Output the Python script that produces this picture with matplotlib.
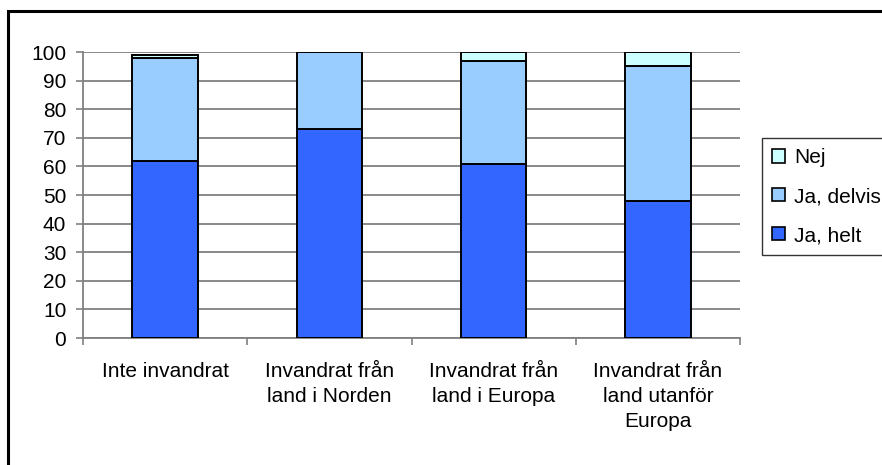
import matplotlib
matplotlib.use("Agg")
import matplotlib.pyplot as plt
from matplotlib.patches import Rectangle, Patch
import numpy as np

plt.rcParams['font.family'] = ['Liberation Sans', 'DejaVu Sans']

# data
categories = ["Inte invandrat", "Invandrat från\nland i Norden",
              "Invandrat från\nland i Europa", "Invandrat från\nland utanför\nEuropa"]
ja_helt   = [62, 73, 61, 48]
ja_delvis = [36, 27, 36, 47]
nej       = [1, 0, 3, 5]

series = [("Ja, helt", ja_helt, "#3366FF"),
          ("Ja, delvis", ja_delvis, "#99CCFF"),
          ("Nej", nej, "#CCFFFF")]

W, H = 882, 465
FS = 15
fig = plt.figure(figsize=(W / 100, H / 100), dpi=100)

# outer chart frame (cut off at right and bottom in the reference)
fig.patches.append(Rectangle((8 / W, -0.05), 1.0, 1 - 11 / H + 0.05,
                             transform=fig.transFigure, fill=False,
                             edgecolor="black", linewidth=2.2))

ax = fig.add_axes([83 / W, 1 - 338 / H, (740 - 83) / W, (338 - 52) / H])

x = np.arange(len(categories))
bottom = np.zeros(len(categories))
for name, vals, col in series:
    vals = np.array(vals, dtype=float)
    ax.bar(x, vals, width=0.4, bottom=bottom, color=col,
           edgecolor="black", linewidth=1.4, zorder=3)
    bottom += vals

ax.set_xlim(-0.5, len(categories) - 0.5)
ax.set_ylim(0, 100)
ax.set_yticks(np.arange(0, 101, 10))
ax.yaxis.grid(True, color="#808080", linewidth=1.3, zorder=0)

ax.set_xticks(x)
ax.set_xticklabels(categories, linespacing=1.4)
ax.set_xticks(np.arange(-0.5, len(categories), 1), minor=True)
ax.tick_params(axis="x", which="major", length=0, pad=17, labelsize=FS)
ax.tick_params(axis="x", which="minor", length=5, color="#808080", width=1.2)
ax.tick_params(axis="y", length=5, color="#808080", width=1.2, pad=7, labelsize=FS)

for s in ["top", "right"]:
    ax.spines[s].set_visible(False)
for s in ["left", "bottom"]:
    ax.spines[s].set_color("#808080")
    ax.spines[s].set_linewidth(1.3)

handles = [Patch(facecolor=col, edgecolor="black", linewidth=1.2, label=name)
           for name, vals, col in series[::-1]]
leg = fig.legend(handles=handles, loc="upper left",
                 bbox_to_anchor=(762 / W, 1 - 138 / H),
                 fontsize=FS, frameon=True, fancybox=False,
                 handlelength=0.6, handleheight=0.6, handletextpad=0.45,
                 labelspacing=0.95, borderpad=0.5, borderaxespad=0)
leg.get_frame().set_edgecolor("black")
leg.get_frame().set_linewidth(1.0)

fig.savefig("out.png", dpi=100)
